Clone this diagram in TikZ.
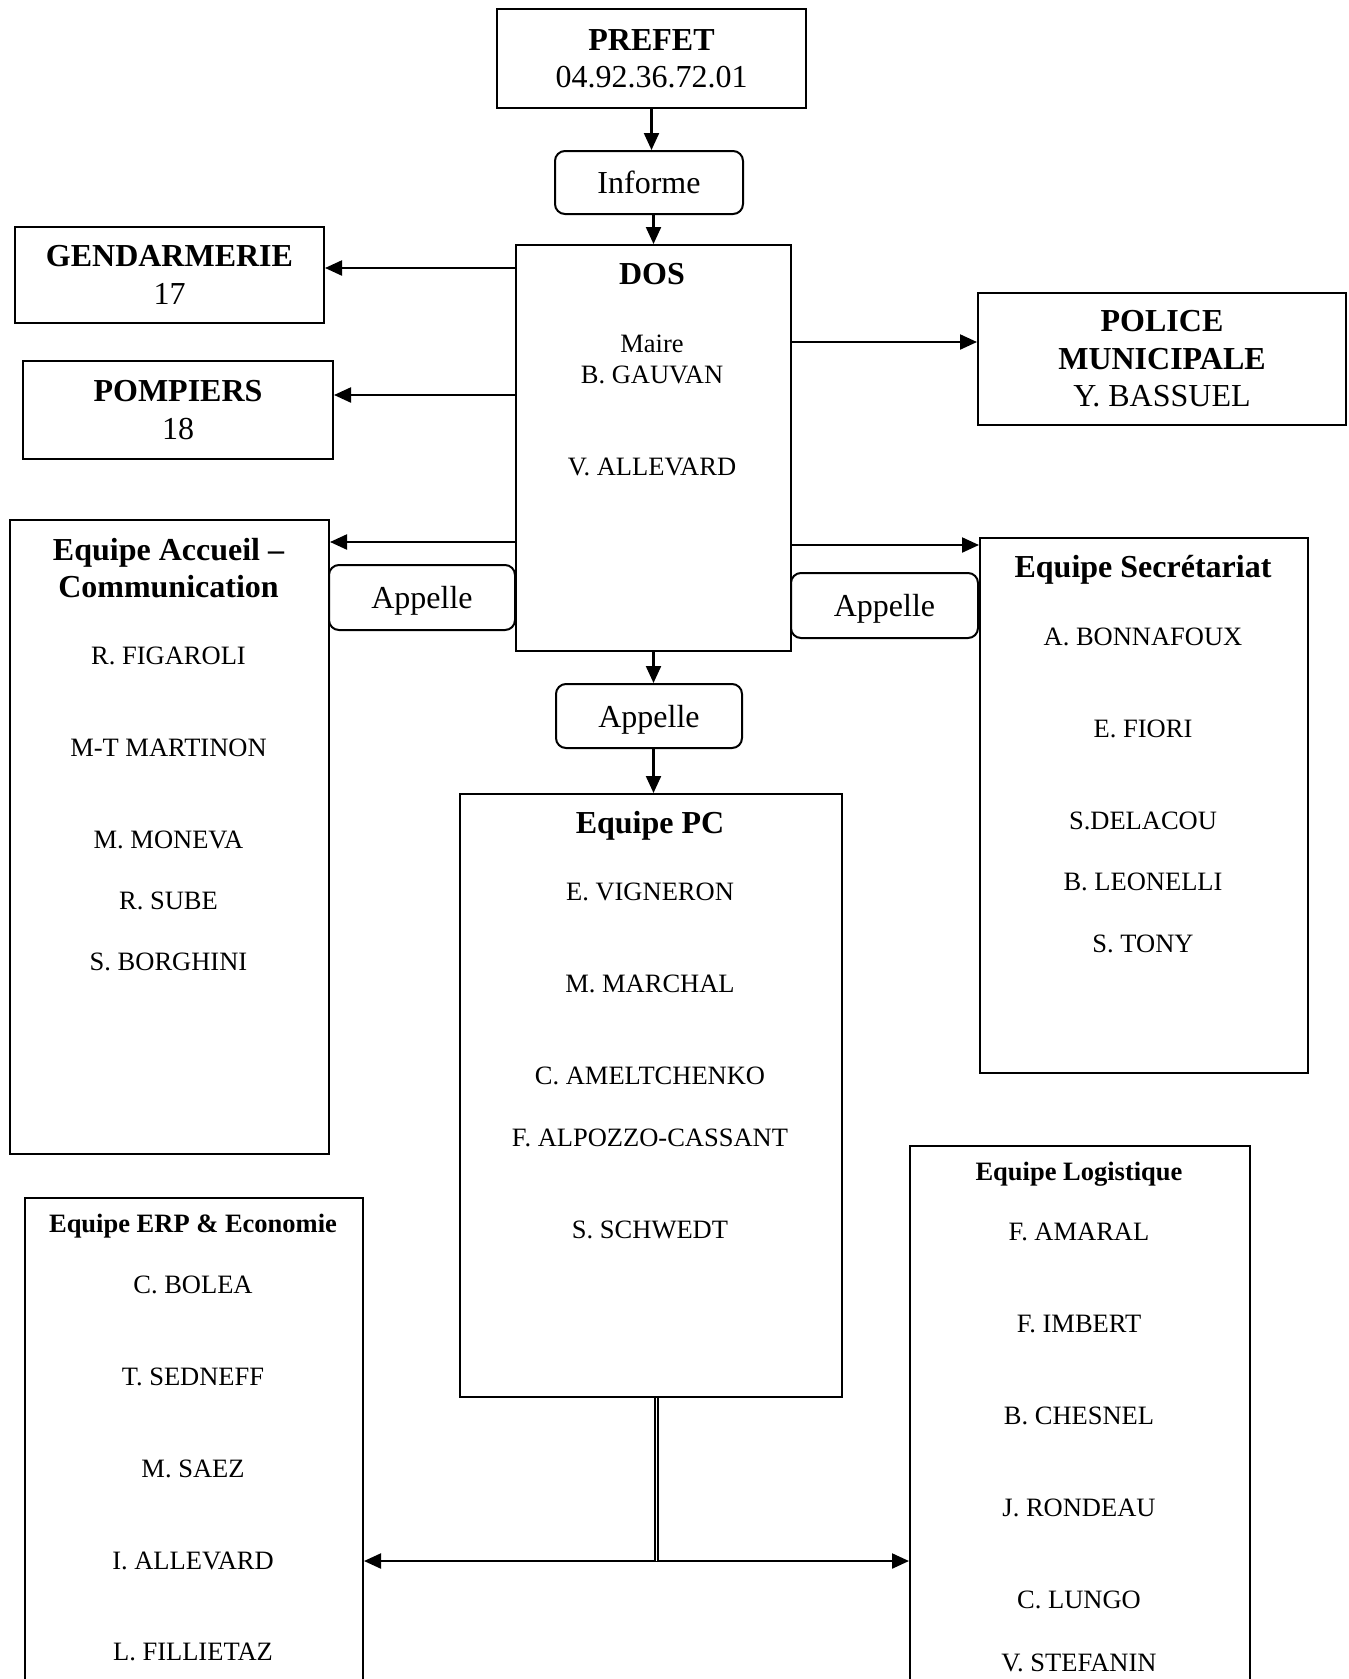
\documentclass[tikz,border=0pt]{standalone}
\usepackage{fontspec}
\setmainfont{Liberation Serif}
\usetikzlibrary{arrows.meta}

\newcommand{\bigfont}{\fontsize{32}{37.5}\selectfont}
\newcommand{\namefont}{\fontsize{26.5}{30}\selectfont}

\begin{document}
\begin{tikzpicture}[
            x=1pt, y=-1pt,
            box/.style={draw, line width=2pt, align=center, font=\bigfont, inner sep=0pt, anchor=north west},
            tag/.style={box, rounded corners=10pt, text depth=0pt},
            teamhead/.style={font=\bigfont\bfseries, text height=21.2pt, text depth=0pt, inner sep=0pt},
            member/.style={font=\namefont, text height=17.5pt, text depth=0pt, inner sep=0pt},
            subhead/.style={member, font=\namefont\bfseries},
            arrow/.style={-{Triangle[length=17pt, width=15pt]}, line width=2.2pt}
        ]
        \useasboundingbox (0,0) rectangle (1349,1679);
        \clip (0,0) rectangle (1349,1679);

        % boxes
        \node[box, minimum width=309pt, minimum height=99pt] (prefet) at (496,8) {\textbf{PREFET}\\04.92.36.72.01};
        \node[tag, minimum width=188pt, minimum height=63pt] (informe) at (554,150) {Informe};
        \node[box, minimum width=275pt, minimum height=406pt] (dos) at (515,244) {};
        \node[box, minimum width=309pt, minimum height=96pt] (gend) at (14,226) {\textbf{GENDARMERIE}\\17};
        \node[box, minimum width=310pt, minimum height=98pt] (pomp) at (22,360) {\textbf{POMPIERS}\\18};
        \node[box, minimum width=368pt, minimum height=132pt] (police) at (977,292) {\textbf{POLICE}\\\textbf{MUNICIPALE}\\Y. BASSUEL};
        \node[box, minimum width=319pt, minimum height=634pt] (accueil) at (9,519) {};
        \node[tag, minimum width=186pt, minimum height=65pt] (appelleG) at (328,564) {Appelle};
        \node[box, minimum width=328pt, minimum height=535pt] (secr) at (979,537) {};
        \node[tag, minimum width=187pt, minimum height=65pt] (appelleD) at (790,572) {Appelle};
        \node[tag, minimum width=186pt, minimum height=64pt] (appelleB) at (555,683) {Appelle};
        \node[box, minimum width=382pt, minimum height=603pt] (pc) at (459,793) {};
        \node[box, minimum width=340pt, minimum height=560pt] (logi) at (909,1145) {};
        \node[box, minimum width=338pt, minimum height=510pt] (erp) at (24,1197) {};

        % texts in the boxes
        \node[teamhead] (dosT) at (652,274) {DOS};
        \foreach \t/\y [count=\i] in {Maire/344, B. GAUVAN/375, V. ALLEVARD/467}
            \node[member] (dos-\i) at (652,\y) {\t};

        \node[teamhead] (accT) at (168.5,550) {Equipe Accueil --};
        \node[teamhead] (accT2) at (168.5,587) {Communication};
        \foreach \t/\y [count=\i] in {R. FIGAROLI/656, M-T MARTINON/748, M. MONEVA/840, R. SUBE/901, S. BORGHINI/962}
            \node[member] (acc-\i) at (168.5,\y) {\t};

        \node[teamhead] (secT) at (1143,567) {Equipe Secrétariat};
        \foreach \t/\y [count=\i] in {A. BONNAFOUX/637, E. FIORI/729, S.DELACOU/821, B. LEONELLI/882, S. TONY/944}
            \node[member] (sec-\i) at (1143,\y) {\t};

        \node[teamhead] (pcT) at (650,823) {Equipe PC};
        \foreach \t/\y [count=\i] in {E. VIGNERON/892, M. MARCHAL/984, C. AMELTCHENKO/1076, F. ALPOZZO-CASSANT/1138, S. SCHWEDT/1230}
            \node[member] (pc-\i) at (650,\y) {\t};

        \node[subhead] (logT) at (1079,1172) {Equipe Logistique};
        \foreach \t/\y [count=\i] in {F. AMARAL/1232, F. IMBERT/1324, B. CHESNEL/1416, J. RONDEAU/1508, C. LUNGO/1600, V. STEFANIN/1663}
            \node[member] (log-\i) at (1079,\y) {\t};

        \node[subhead] (erpT) at (193,1224) {Equipe ERP \& Economie};
        \foreach \t/\y [count=\i] in {C. BOLEA/1285, T. SEDNEFF/1377, M. SAEZ/1469, I. ALLEVARD/1561, L. FILLIETAZ/1652}
            \node[member] (erp-\i) at (193,\y) {\t};

        % connectors
        \draw[arrow] (prefet.south) -- (prefet.south |- informe.north);
        \draw[arrow] (informe.south -| dos.north) -- (dos.north);
        \coordinate (toGend) at ([yshift=7pt]gend.east);
        \draw[arrow] (dos.west |- toGend) -- (toGend);
        \coordinate (toPomp) at ([yshift=15pt]pomp.east);
        \draw[arrow] (dos.west |- toPomp) -- (toPomp);
        \coordinate (toAcc) at ([yshift=-23pt]accueil.north east);
        \draw[arrow] (dos.west |- toAcc) -- (toAcc);
        \coordinate (toPol) at ([yshift=17pt]police.west);
        \draw[arrow] (dos.east |- toPol) -- (toPol);
        \coordinate (toSec) at ([yshift=-8pt]secr.north west);
        \draw[arrow] (dos.east |- toSec) -- (toSec);
        \draw[arrow] (dos.south) -- (dos.south |- appelleB.north);
        \draw[arrow] (appelleB.south -| dos.south) -- (dos.south |- pc.north);
        \coordinate (split) at (656,1561);
        \draw[arrow] (split) -- (split -| erp.east);
        \draw[arrow] (split) -- (split -| logi.west);
        \draw[line width=2pt, double, double distance=1pt] (pc.south -| split) -- (split);
        \end{tikzpicture}
\end{document}
